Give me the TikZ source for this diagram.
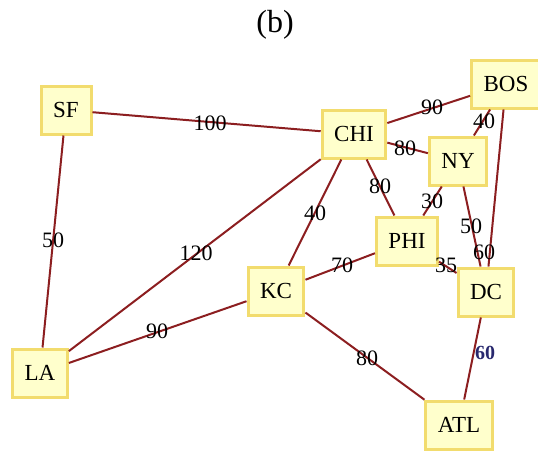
\documentclass[tikz,border=0pt]{standalone}
\usepackage{fontspec}
\setmainfont{Liberation Serif}
\definecolor{boxfill}{RGB}{255,255,204}
\definecolor{boxline}{RGB}{242,220,110}
\definecolor{edgecol}{RGB}{140,30,32}
\definecolor{navy}{RGB}{40,40,110}
\begin{document}
\begin{tikzpicture}[x=1pt,y=-1pt,
  city/.style={draw=boxline,fill=boxfill,line width=3pt,rectangle,
    minimum height=48pt,minimum width=50pt,inner xsep=12pt,
    font=\fontsize{23}{25}\selectfont},
  road/.style={draw=edgecol,line width=2pt},
  wt/.style={font=\fontsize{22}{24}\selectfont,inner sep=0pt}]
\useasboundingbox (0,0) rectangle (538,450);
\node[font=\fontsize{32}{34}\selectfont] (title) at (275,25) {(b)};
\node[city] (SF) at (66,110) {SF};
\node[city] (CHI) at (354,134) {CHI};
\node[city] (BOS) at (506,84) {BOS};
\node[city] (NY) at (458,161) {NY};
\node[city] (PHI) at (407,241) {PHI};
\node[city] (KC) at (276,291) {KC};
\node[city] (DC) at (486,292) {DC};
\node[city] (LA) at (40,373) {LA};
\node[city] (ATL) at (459,425) {ATL};
\draw[road] (SF) -- (CHI);
\draw[road] (CHI) -- (BOS);
\draw[road] (BOS) -- (NY);
\draw[road] (CHI) -- (NY);
\draw[road] (CHI) -- (PHI);
\draw[road] (NY) -- (PHI);
\draw[road] (NY) -- (DC);
\draw[road] (BOS) -- (DC);
\draw[road] (PHI) -- (DC);
\draw[road] (CHI) -- (KC);
\draw[road] (CHI) -- (LA);
\draw[road] (SF) -- (LA);
\draw[road] (KC) -- (PHI);
\draw[road] (LA) -- (KC);
\draw[road] (KC) -- (ATL);
\draw[road] (DC) -- (ATL);
\node[wt] (l1) at (210,123) {100};
\node[wt] (l2) at (432,107) {90};
\node[wt] (l3) at (484,121) {40};
\node[wt] (l4) at (405,148) {80};
\node[wt] (l5) at (380,186) {80};
\node[wt] (l6) at (432,201) {30};
\node[wt] (l7) at (471,226) {50};
\node[wt] (l8) at (484,252) {60};
\node[wt] (l9) at (446,265) {35};
\node[wt] (l10) at (315,213) {40};
\node[wt] (l11) at (196,253) {120};
\node[wt] (l12) at (53,240) {50};
\node[wt] (l13) at (342,265) {70};
\node[wt] (l14) at (157,331) {90};
\node[wt] (l15) at (367,358) {80};
\node[wt,text=navy,font=\fontsize{20}{22}\selectfont\bfseries] (l16) at (485,353) {60};
\end{tikzpicture}
\end{document}
